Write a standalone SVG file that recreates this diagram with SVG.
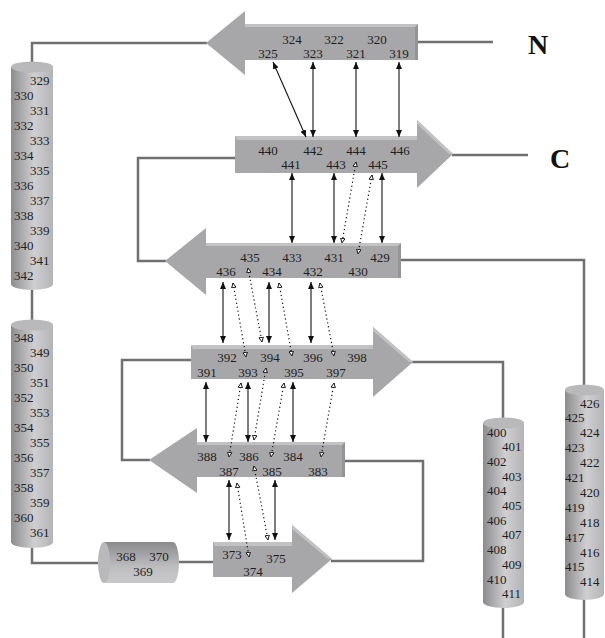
<svg xmlns="http://www.w3.org/2000/svg" width="605" height="638" viewBox="0 0 605 638">
<defs>
<style>
.t{font-family:"Liberation Serif","Times New Roman",serif;font-size:13px;fill:#1e1e1e}
.m{text-anchor:middle}
.big{font-family:"Liberation Serif","Times New Roman",serif;font-size:28px;font-weight:bold;fill:#111;text-anchor:middle}
.loop{fill:none;stroke:#707070;stroke-width:2.5}
.hb{stroke:#111;stroke-width:1.1;fill:none;marker-start:url(#ah);marker-end:url(#ah)}
.hd{stroke:#111;stroke-width:1.2;fill:none;stroke-dasharray:1.2 2.8;marker-start:url(#oh);marker-end:url(#oh)}
.strand{fill:#a7a7a9}
.lite{fill:#c2c2c4}
.dark{fill:#949496}
.cyl{fill:url(#gv)}
.cap{fill:#b9b9bb}
</style>
<linearGradient id="gv" x1="0" y1="0" x2="1" y2="0">
<stop offset="0" stop-color="#8c8c8e"/>
<stop offset="0.55" stop-color="#cfcfd1"/>
<stop offset="1" stop-color="#b4b4b6"/>
</linearGradient>
<linearGradient id="gh" x1="0" y1="0" x2="0" y2="1">
<stop offset="0" stop-color="#8a8a8c"/>
<stop offset="0.6" stop-color="#bdbdbf"/>
<stop offset="1" stop-color="#c9c9cb"/>
</linearGradient>
<marker id="ah" viewBox="0 0 7 6" refX="7" refY="3" markerWidth="7" markerHeight="6" markerUnits="userSpaceOnUse" orient="auto-start-reverse">
<path d="M0,0 L7,3 L0,6 Z" fill="#111"/>
</marker>
<marker id="oh" viewBox="0 0 6 6" refX="5.6" refY="3" markerWidth="5.5" markerHeight="5.5" markerUnits="userSpaceOnUse" orient="auto-start-reverse">
<path d="M0.6,0.6 L5.5,3 L0.6,5.4 Z" fill="#fff" stroke="#111" stroke-width="1"/>
</marker>
</defs>
<rect width="605" height="638" fill="#fff"/>

<g id="connectors">
<path class="loop" d="M32,64 V43 H207"/>
<path class="loop" d="M417,42 H493"/>
<path class="loop" d="M452,155 H528"/>
<path class="loop" d="M236,158 H138 V261 H166"/>
<path class="loop" d="M400,260 H584 V386"/>
<path class="loop" d="M584,598 V638"/>
<path class="loop" d="M192,360 H122 V460 H150"/>
<path class="loop" d="M412,362 H503 V419"/>
<path class="loop" d="M503,606 V638"/>
<path class="loop" d="M344,461 H423 V561 H331"/>
<path class="loop" d="M178,562 H214"/>
<path class="loop" d="M104,563 H32 V546"/>
<path class="loop" d="M32,289 V321"/>
</g>

<g id="strand-319-325">
<polygon class="strand" points="206,43 245,11 245,24 418,24 418,60 245,60 245,75"/>
<polygon class="lite" points="245,24 418,24 416,27 245,27"/>
<polygon class="dark" points="415,27 418,24 418,60 415,60"/>
<text class="t m" x="292" y="44">324</text><text class="t m" x="334" y="44">322</text><text class="t m" x="377" y="44">320</text>
<text class="t m" x="268" y="58">325</text><text class="t m" x="313" y="58">323</text><text class="t m" x="356" y="58">321</text><text class="t m" x="399" y="58">319</text>
</g>

<g id="strand-440-446">
<polygon class="strand" points="235,136 417,136 417,120 453,154 417,188 417,173 235,173"/>
<polygon class="lite" points="235,136 417,136 417,140 237,140"/>
<polygon class="lite" points="417,120 453,154 449,154 417,124"/>
<text class="t m" x="268" y="155">440</text><text class="t m" x="313" y="155">442</text><text class="t m" x="356" y="155">444</text><text class="t m" x="400" y="155">446</text>
<text class="t m" x="291" y="169">441</text><text class="t m" x="336" y="169">443</text><text class="t m" x="378" y="169">445</text>
</g>

<g id="strand-429-436">
<polygon class="strand" points="165,261 206,228 206,243 401,243 401,278 206,278 206,295"/>
<polygon class="lite" points="206,243 401,243 399,246 206,246"/>
<polygon class="dark" points="398,246 401,243 401,278 398,278"/>
<text class="t m" x="250" y="262">435</text><text class="t m" x="292" y="262">433</text><text class="t m" x="334" y="262">431</text><text class="t m" x="380" y="262">429</text>
<text class="t m" x="226" y="276">436</text><text class="t m" x="272" y="276">434</text><text class="t m" x="313" y="276">432</text><text class="t m" x="358" y="276">430</text>
</g>

<g id="strand-391-398">
<polygon class="strand" points="191,345 373,345 373,327 413,362 373,397 373,379 191,379"/>
<polygon class="lite" points="191,345 373,345 373,349 193,349"/>
<polygon class="lite" points="373,327 413,362 409,362 373,331"/>
<text class="t m" x="227" y="362">392</text><text class="t m" x="270" y="362">394</text><text class="t m" x="313" y="362">396</text><text class="t m" x="357" y="362">398</text>
<text class="t m" x="207" y="377">391</text><text class="t m" x="248" y="377">393</text><text class="t m" x="294" y="377">395</text><text class="t m" x="336" y="377">397</text>
</g>

<g id="strand-383-388">
<polygon class="strand" points="149,460 197,428 197,442 345,442 345,477 197,477 197,493"/>
<polygon class="lite" points="197,442 345,442 343,445 197,445"/>
<polygon class="dark" points="342,445 345,442 345,477 342,477"/>
<text class="t m" x="207" y="461">388</text><text class="t m" x="249" y="461">386</text><text class="t m" x="293" y="461">384</text>
<text class="t m" x="229" y="476">387</text><text class="t m" x="272" y="476">385</text><text class="t m" x="318" y="476">383</text>
</g>

<g id="strand-373-375">
<polygon class="strand" points="213,542 292,542 292,525 332,559 292,593 292,577 213,577"/>
<polygon class="lite" points="213,542 292,542 292,546 215,546"/>
<polygon class="lite" points="292,525 332,559 328,559 292,529"/>
<text class="t m" x="232" y="559">373</text><text class="t m" x="276" y="563">375</text><text class="t m" x="253" y="576">374</text>
</g>

<g id="helix-368-370">
<path d="M104,542 H173 A6,20.5 0 0 1 173,583 H104 Z" fill="url(#gh)"/>
<ellipse class="cap" cx="104" cy="562.5" rx="6" ry="20.5"/>
<text class="t m" x="126" y="561">368</text><text class="t m" x="159" y="561">370</text><text class="t m" x="143" y="576">369</text>
</g>

<g id="helix-329-342">
<path class="cyl" d="M11,67 V284 A21,6 0 0 0 53,284 V67 Z"/>
<ellipse class="cap" cx="32" cy="67" rx="21" ry="5.5"/>
<text class="t" x="30" y="84.5">329</text><text class="t" x="14" y="99.5">330</text>
<text class="t" x="30" y="114.5">331</text><text class="t" x="14" y="129.5">332</text>
<text class="t" x="30" y="144.5">333</text><text class="t" x="14" y="159.5">334</text>
<text class="t" x="30" y="174.5">335</text><text class="t" x="14" y="189.5">336</text>
<text class="t" x="30" y="204.5">337</text><text class="t" x="14" y="219.5">338</text>
<text class="t" x="30" y="234.5">339</text><text class="t" x="14" y="249.5">340</text>
<text class="t" x="30" y="264.5">341</text><text class="t" x="14" y="279.5">342</text>
</g>

<g id="helix-348-361">
<path class="cyl" d="M11,325 V542 A21,6 0 0 0 53,542 V325 Z"/>
<ellipse class="cap" cx="32" cy="325" rx="21" ry="5.5"/>
<text class="t" x="14" y="341.5">348</text><text class="t" x="30" y="356.5">349</text>
<text class="t" x="14" y="371.5">350</text><text class="t" x="30" y="386.5">351</text>
<text class="t" x="14" y="401.5">352</text><text class="t" x="30" y="416.5">353</text>
<text class="t" x="14" y="431.5">354</text><text class="t" x="30" y="446.5">355</text>
<text class="t" x="14" y="461.5">356</text><text class="t" x="30" y="476.5">357</text>
<text class="t" x="14" y="491.5">358</text><text class="t" x="30" y="506.5">359</text>
<text class="t" x="14" y="521.5">360</text><text class="t" x="30" y="536.5">361</text>
</g>

<g id="helix-400-411">
<path class="cyl" d="M483,423 V602 A20.5,6 0 0 0 524,602 V423 Z"/>
<ellipse class="cap" cx="503.5" cy="423" rx="20.5" ry="5.5"/>
<text class="t" x="487" y="436.5">400</text><text class="t" x="502" y="451.2">401</text>
<text class="t" x="487" y="465.9">402</text><text class="t" x="502" y="480.6">403</text>
<text class="t" x="487" y="495.3">404</text><text class="t" x="502" y="510">405</text>
<text class="t" x="487" y="524.7">406</text><text class="t" x="502" y="539.4">407</text>
<text class="t" x="487" y="554.1">408</text><text class="t" x="502" y="568.8">409</text>
<text class="t" x="487" y="583.5">410</text><text class="t" x="502" y="598.2">411</text>
</g>

<g id="helix-414-426">
<path class="cyl" d="M565,390 V594 A19.5,6 0 0 0 604,594 V390 Z"/>
<ellipse class="cap" cx="584.5" cy="390" rx="19.5" ry="5.5"/>
<text class="t" x="580" y="407.5">426</text><text class="t" x="565" y="422.4">425</text>
<text class="t" x="580" y="437.3">424</text><text class="t" x="565" y="452.2">423</text>
<text class="t" x="580" y="467.1">422</text><text class="t" x="565" y="482">421</text>
<text class="t" x="580" y="496.9">420</text><text class="t" x="565" y="511.8">419</text>
<text class="t" x="580" y="526.7">418</text><text class="t" x="565" y="541.6">417</text>
<text class="t" x="580" y="556.5">416</text><text class="t" x="565" y="571.4">415</text>
<text class="t" x="580" y="586.3">414</text>
</g>

<g id="hbonds">
<line class="hb" x1="273" y1="62" x2="306" y2="137"/>
<line class="hb" x1="313" y1="62" x2="313" y2="137"/>
<line class="hb" x1="356" y1="62" x2="356" y2="137"/>
<line class="hb" x1="399" y1="62" x2="399" y2="137"/>
<line class="hb" x1="292" y1="173" x2="292" y2="243"/>
<line class="hb" x1="334" y1="173" x2="334" y2="243"/>
<line class="hb" x1="382" y1="173" x2="382" y2="243"/>
<line class="hb" x1="223" y1="282" x2="223" y2="343"/>
<line class="hb" x1="269" y1="282" x2="269" y2="343"/>
<line class="hb" x1="311" y1="282" x2="311" y2="343"/>
<line class="hb" x1="206" y1="382" x2="206" y2="442"/>
<line class="hb" x1="248" y1="382" x2="248" y2="442"/>
<line class="hb" x1="293" y1="382" x2="293" y2="442"/>
<line class="hb" x1="229" y1="480" x2="229" y2="540"/>
<line class="hb" x1="275" y1="480" x2="275" y2="540"/>
<line class="hd" x1="356" y1="162" x2="342" y2="243"/>
<line class="hd" x1="372" y1="175" x2="358" y2="254"/>
<line class="hd" x1="233" y1="283" x2="246" y2="357"/>
<line class="hd" x1="248" y1="268" x2="262" y2="342"/>
<line class="hd" x1="279" y1="283" x2="292" y2="356"/>
<line class="hd" x1="320" y1="283" x2="334" y2="356"/>
<line class="hd" x1="241" y1="383" x2="229" y2="457"/>
<line class="hd" x1="266" y1="368" x2="254" y2="440"/>
<line class="hd" x1="284" y1="383" x2="271" y2="457"/>
<line class="hd" x1="334" y1="383" x2="321" y2="457"/>
<line class="hd" x1="237" y1="483" x2="249" y2="557"/>
<line class="hd" x1="254" y1="466" x2="268" y2="540"/>
</g>

<g id="termini">
<text class="big" x="538" y="54">N</text>
<text class="big" x="560" y="168">C</text>
</g>
</svg>
